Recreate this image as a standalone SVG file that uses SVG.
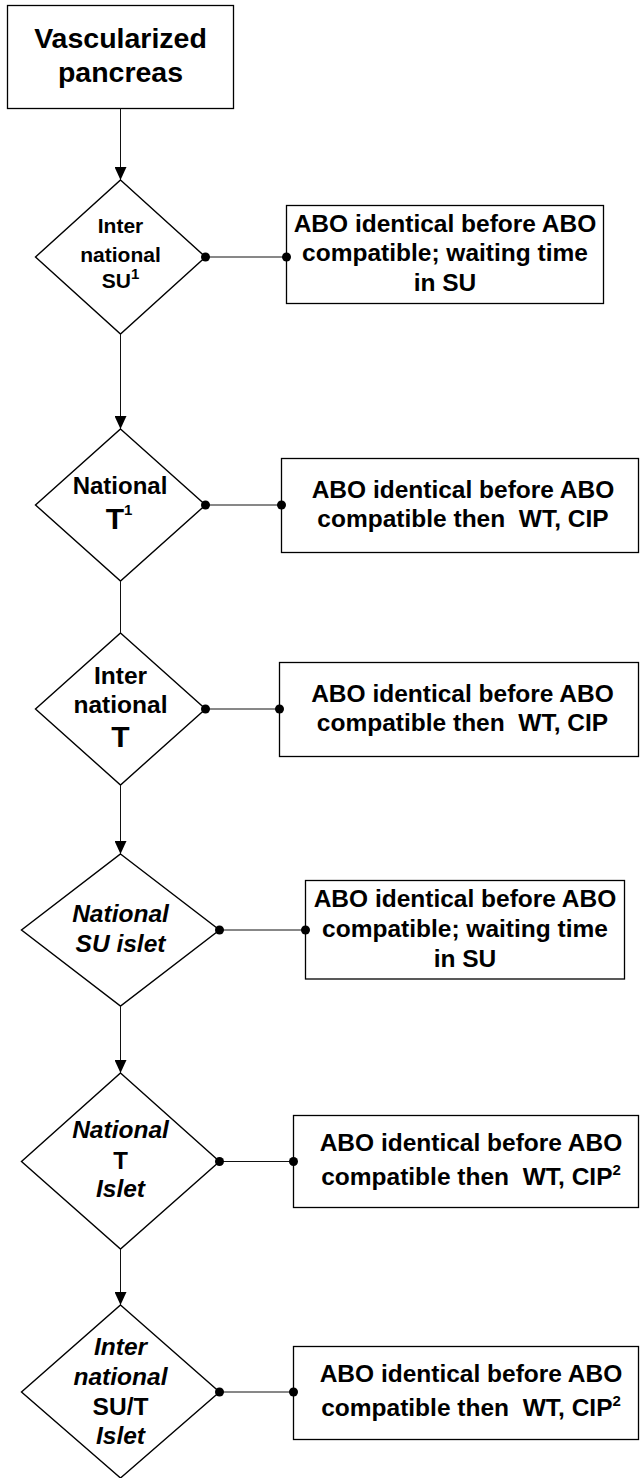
<svg xmlns="http://www.w3.org/2000/svg" width="640" height="1478" viewBox="0 0 640 1478">
<style>
  .box { fill: #fff; stroke: #000; stroke-width: 1.3; }
  .dia { fill: #fff; stroke: #000; stroke-width: 1.4; }
  .v { fill: none; stroke: #111; stroke-width: 1; marker-end: url(#arrow); }
  .v0 { fill: none; stroke: #111; stroke-width: 1; }
  .h { fill: none; stroke: #111; stroke-width: 1; }
  .dot { fill: #000; }
  text { font-family: "Liberation Sans", Arial, sans-serif; font-weight: bold; fill: #000; text-anchor: middle; white-space: pre; }
  .t28 { font-size: 28.5px; }
  .t20 { font-size: 21px; }
  .t23 { font-size: 24px; }
  .t24 { font-size: 24.5px; }
  .tb { font-size: 24.5px; }
  .big { font-size: 30px; }
  .it { font-style: italic; }
  .sup { font-size: 15px; }
</style>
<defs>
  <marker id="arrow" viewBox="0 0 13 12" refX="13" refY="6" markerWidth="13" markerHeight="12" markerUnits="userSpaceOnUse" orient="auto">
    <path d="M0,0 L13,6 L0,12 z" fill="#000"/>
  </marker>
</defs>

<g id="start">
  <rect class="box" x="7.5" y="5.5" width="226" height="103"/>
  <text class="t28" x="120.5" y="48">Vascularized</text>
  <text class="t28" x="120.5" y="82">pancreas</text>
</g>

<g id="d1">
  <polygon class="dia" points="120.5,180 205.5,257 120.5,334 35.5,257"/>
  <text class="t20" x="120.5" y="233">Inter</text>
  <text class="t20" x="120.5" y="262">national</text>
  <text class="t20" x="120.5" y="288">SU<tspan class="sup" dy="-9">1</tspan></text>
</g>
<g id="b1">
  <rect class="box" x="286.5" y="205.5" width="317" height="98"/>
  <text class="tb" x="445" y="232">ABO identical before ABO</text>
  <text class="tb" x="445" y="261">compatible; waiting time</text>
  <text class="tb" x="445" y="291">in SU</text>
</g>

<g id="d2">
  <polygon class="dia" points="120.5,429 205.5,505 120.5,581 35.5,505"/>
  <text class="t23" x="120" y="494">National</text>
  <text class="big" x="119" y="529">T<tspan class="sup" dy="-14">1</tspan></text>
</g>
<g id="b2">
  <rect class="box" x="281.5" y="458.5" width="357" height="94"/>
  <text class="tb" x="463" y="498">ABO identical before ABO</text>
  <text class="tb" x="463" y="527">compatible then  WT, CIP</text>
</g>

<g id="d3">
  <polygon class="dia" points="120.5,633 205.5,709 120.5,785 35.5,709"/>
  <text class="t24" x="120.5" y="684">Inter</text>
  <text class="t24" x="120.5" y="713">national</text>
  <text class="big" x="120.5" y="747">T</text>
</g>
<g id="b3">
  <rect class="box" x="279.5" y="662.5" width="359" height="94"/>
  <text class="tb" x="462.5" y="702">ABO identical before ABO</text>
  <text class="tb" x="462.5" y="731">compatible then  WT, CIP</text>
</g>

<g id="d4">
  <polygon class="dia" points="120.5,854 219.5,930 120.5,1006 21.5,930"/>
  <text class="t24 it" x="120.5" y="922">National</text>
  <text class="t24 it" x="120.5" y="952">SU islet</text>
</g>
<g id="b4">
  <rect class="box" x="305.5" y="880.5" width="319" height="98.5"/>
  <text class="tb" x="465" y="907">ABO identical before ABO</text>
  <text class="tb" x="465" y="937">compatible; waiting time</text>
  <text class="tb" x="465" y="967">in SU</text>
</g>

<g id="d5">
  <polygon class="dia" points="120.5,1073 219.5,1161.5 120.5,1249 21.5,1161.5"/>
  <text class="t24 it" x="120.5" y="1138">National</text>
  <text class="t23" x="120.5" y="1169">T</text>
  <text class="t24 it" x="120.5" y="1197">Islet</text>
</g>
<g id="b5">
  <rect class="box" x="293.5" y="1115.5" width="345" height="92"/>
  <text class="tb" x="471" y="1151">ABO identical before ABO</text>
  <text class="tb" x="471" y="1185">compatible then  WT, CIP<tspan class="sup" dy="-10">2</tspan></text>
</g>

<g id="d6">
  <polygon class="dia" points="120.5,1305 219.5,1392 120.5,1478 21.5,1392"/>
  <text class="t24 it" x="120.5" y="1355">Inter</text>
  <text class="t24 it" x="120.5" y="1385">national</text>
  <text class="t24" x="120.5" y="1415">SU/T</text>
  <text class="t24 it" x="120.5" y="1444">Islet</text>
</g>
<g id="b6">
  <rect class="box" x="293.5" y="1346.5" width="345" height="93"/>
  <text class="tb" x="471" y="1382">ABO identical before ABO</text>
  <text class="tb" x="471" y="1416">compatible then  WT, CIP<tspan class="sup" dy="-10">2</tspan></text>
</g>

<g id="connectors">
  <line class="v" x1="120.5" y1="108.5" x2="120.5" y2="180"/>
  <line class="v" x1="120.5" y1="334" x2="120.5" y2="429"/>
  <line class="v0" x1="120.5" y1="581" x2="120.5" y2="633"/>
  <line class="v" x1="120.5" y1="785" x2="120.5" y2="854"/>
  <line class="v" x1="120.5" y1="1006" x2="120.5" y2="1073"/>
  <line class="v" x1="120.5" y1="1249" x2="120.5" y2="1305"/>
  <line class="h" x1="205.5" y1="257" x2="286.5" y2="257"/>
  <circle class="dot" cx="205.5" cy="257" r="4.5"/>
  <circle class="dot" cx="286.5" cy="257" r="4.5"/>
  <line class="h" x1="205.5" y1="505" x2="281.5" y2="505"/>
  <circle class="dot" cx="205.5" cy="505" r="4.5"/>
  <circle class="dot" cx="281.5" cy="505" r="4.5"/>
  <line class="h" x1="205.5" y1="709" x2="279.5" y2="709"/>
  <circle class="dot" cx="205.5" cy="709" r="4.5"/>
  <circle class="dot" cx="279.5" cy="709" r="4.5"/>
  <line class="h" x1="219.5" y1="930" x2="305.5" y2="930"/>
  <circle class="dot" cx="219.5" cy="930" r="4.5"/>
  <circle class="dot" cx="305.5" cy="930" r="4.5"/>
  <line class="h" x1="219.5" y1="1161.5" x2="293.5" y2="1161.5"/>
  <circle class="dot" cx="219.5" cy="1161.5" r="4.5"/>
  <circle class="dot" cx="293.5" cy="1161.5" r="4.5"/>
  <line class="h" x1="219.5" y1="1392" x2="293.5" y2="1392"/>
  <circle class="dot" cx="219.5" cy="1392" r="4.5"/>
  <circle class="dot" cx="293.5" cy="1392" r="4.5"/>
</g>
</svg>
